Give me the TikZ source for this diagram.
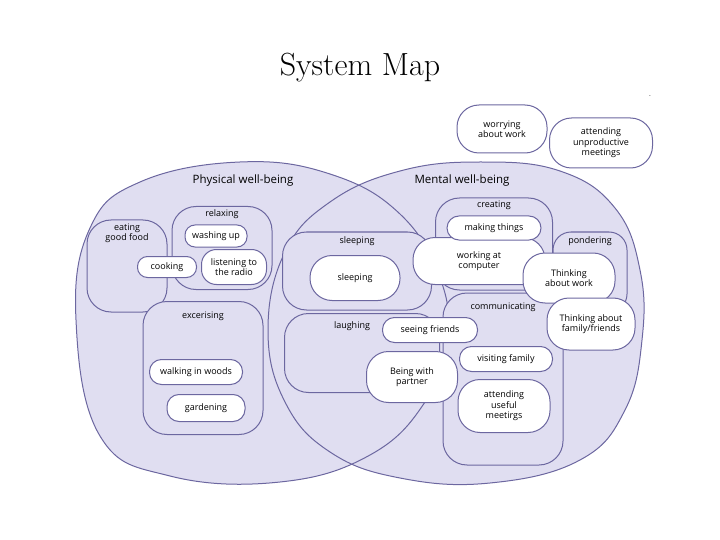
\documentclass[tikz,border=0pt]{standalone}
\usepackage{fontspec}
\setsansfont{Open Sans}
\usetikzlibrary{positioning}

\definecolor{wellfill}{RGB}{224,222,241}
\definecolor{wellline}{RGB}{108,103,160}

\tikzstyle{area}=[draw=wellline, fill=wellfill, line width=1pt]
\tikzstyle{group}=[draw=wellline, fill=wellfill, line width=1pt, rounded corners=24pt, inner sep=0pt]
\tikzstyle{activity}=[draw=wellline, fill=white, line width=1pt, rounded corners=12pt, align=center, inner sep=1pt]
\tikzstyle{bigactivity}=[activity, rounded corners=22pt]
\tikzstyle{caption}=[font=\sffamily\fontsize{9}{10.5}\selectfont, align=center, inner sep=1pt]

\begin{document}
\begin{tikzpicture}[x=1pt, y=-1pt, nodes={font=\sffamily\fontsize{9}{10.5}\selectfont}]
\useasboundingbox (0,0) rectangle (720,540);
\node (title) at (360,68) {\rmfamily\fontsize{32}{36}\selectfont System Map};
\node (dash) at (650,97) {\tiny -};

% the two big areas
\fill[wellfill] plot[smooth cycle, tension=0.7] coordinates {(76,320) (90,228) (140,182) (240,162) (330,174) (400,214) (440,278) (447,340) (425,402) (370,455) (280,482) (170,476) (100,436)};
\fill[wellfill] plot[smooth cycle, tension=0.7] coordinates {(268,330) (285,252) (330,202) (400,171) (480,162) (560,171) (615,208) (640,270) (642,340) (625,410) (580,460) (490,483) (400,478) (330,452) (285,402)};
\draw[wellline, line width=1pt] plot[smooth cycle, tension=0.7] coordinates {(76,320) (90,228) (140,182) (240,162) (330,174) (400,214) (440,278) (447,340) (425,402) (370,455) (280,482) (170,476) (100,436)};
\draw[wellline, line width=1pt] plot[smooth cycle, tension=0.7] coordinates {(268,330) (285,252) (330,202) (400,171) (480,162) (560,171) (615,208) (640,270) (642,340) (625,410) (580,460) (490,483) (400,478) (330,452) (285,402)};
\node[caption, font=\sffamily\fontsize{11.5}{13}\selectfont] (physical) at (243,181) {Physical well-being};
\node[caption, font=\sffamily\fontsize{11.5}{13}\selectfont] (mental) at (462,181) {Mental well-being};

% groups
\node[group, minimum width=80pt, minimum height=92pt] (eatgrp) at (127,266) {};
\node[group, minimum width=100pt, minimum height=83pt] (relaxgrp) at (222,248) {};
\node[group, minimum width=120pt, minimum height=133pt] (exercisegrp) at (203,368) {};
\node[group, minimum width=149pt, minimum height=78pt] (sleepgrp) at (357,271) {};
\node[group, minimum width=155pt, minimum height=79pt] (laughgrp) at (362,353) {};
\node[group, minimum width=117pt, minimum height=92pt] (creategrp) at (494,244) {};
\node[group, rounded corners=18pt, minimum width=74pt, minimum height=80pt] (pondergrp) at (590,272) {};
\node[group, minimum width=120pt, minimum height=172pt] (commgrp) at (503,379) {};

\node[caption, below=3pt of eatgrp.north] {eating\\good food};
\node[caption, below=2pt of relaxgrp.north] {relaxing};
\node[caption, below=10pt of exercisegrp.north] {excerising};
\node[caption, below=4pt of sleepgrp.north] {sleeping};
\node[caption, below=7pt of laughgrp.north, xshift=-10pt] {laughing};
\node[caption, below=2pt of creategrp.north] {creating};
\node[caption, below=4pt of pondergrp.north] {pondering};
\node[caption, below=9pt of commgrp.north] {communicating};

% activities
\node[activity, rounded corners=10pt, minimum width=62pt, minimum height=22pt] (washing) at (216,236) {washing up};
\node[activity, rounded corners=15pt, minimum width=65pt, minimum height=35pt] (radio) at (234,267) {listening to\\the radio};
\node[activity, rounded corners=10pt, minimum width=59pt, minimum height=21pt] (cooking) at (167,267) {cooking};
\node[activity, minimum width=93pt, minimum height=25pt] (walking) at (196,372) {walking in woods};
\node[activity, minimum width=78pt, minimum height=27pt] (gardening) at (206,408) {gardening};
\node[bigactivity, minimum width=90pt, minimum height=45pt] (sleepin) at (355,278) {sleeping};
\node[activity, minimum width=95pt, minimum height=25pt] (friends) at (430,330) {seeing friends};
\node[bigactivity, minimum width=91pt, minimum height=51pt] (partner) at (412,377) {Being with\\partner};
\node[bigactivity, minimum width=132pt, minimum height=47pt] (computer) at (479,261) {working at\\computer};
\node[activity, minimum width=94pt, minimum height=24pt] (making) at (494,228) {making things};
\node[bigactivity, minimum width=92pt, minimum height=50pt] (thinkwork) at (569,278) {Thinking\\about work};
\node[bigactivity, minimum width=88pt, minimum height=52pt] (thinkfam) at (591,324) {Thinking about\\family/friends};
\node[activity, minimum width=93pt, minimum height=25pt] (visiting) at (506,359) {visiting family};
\node[bigactivity, minimum width=92pt, minimum height=53pt] (useful) at (504,406) {attending\\useful\\meetirgs};

% outside both areas
\node[bigactivity, minimum width=90pt, minimum height=48pt] (worrying) at (502,129) {worrying\\about work};
\node[bigactivity, minimum width=103pt, minimum height=50pt] (unproductive) at (601,143) {attending\\unproductive\\meetings};
\end{tikzpicture}
\end{document}
